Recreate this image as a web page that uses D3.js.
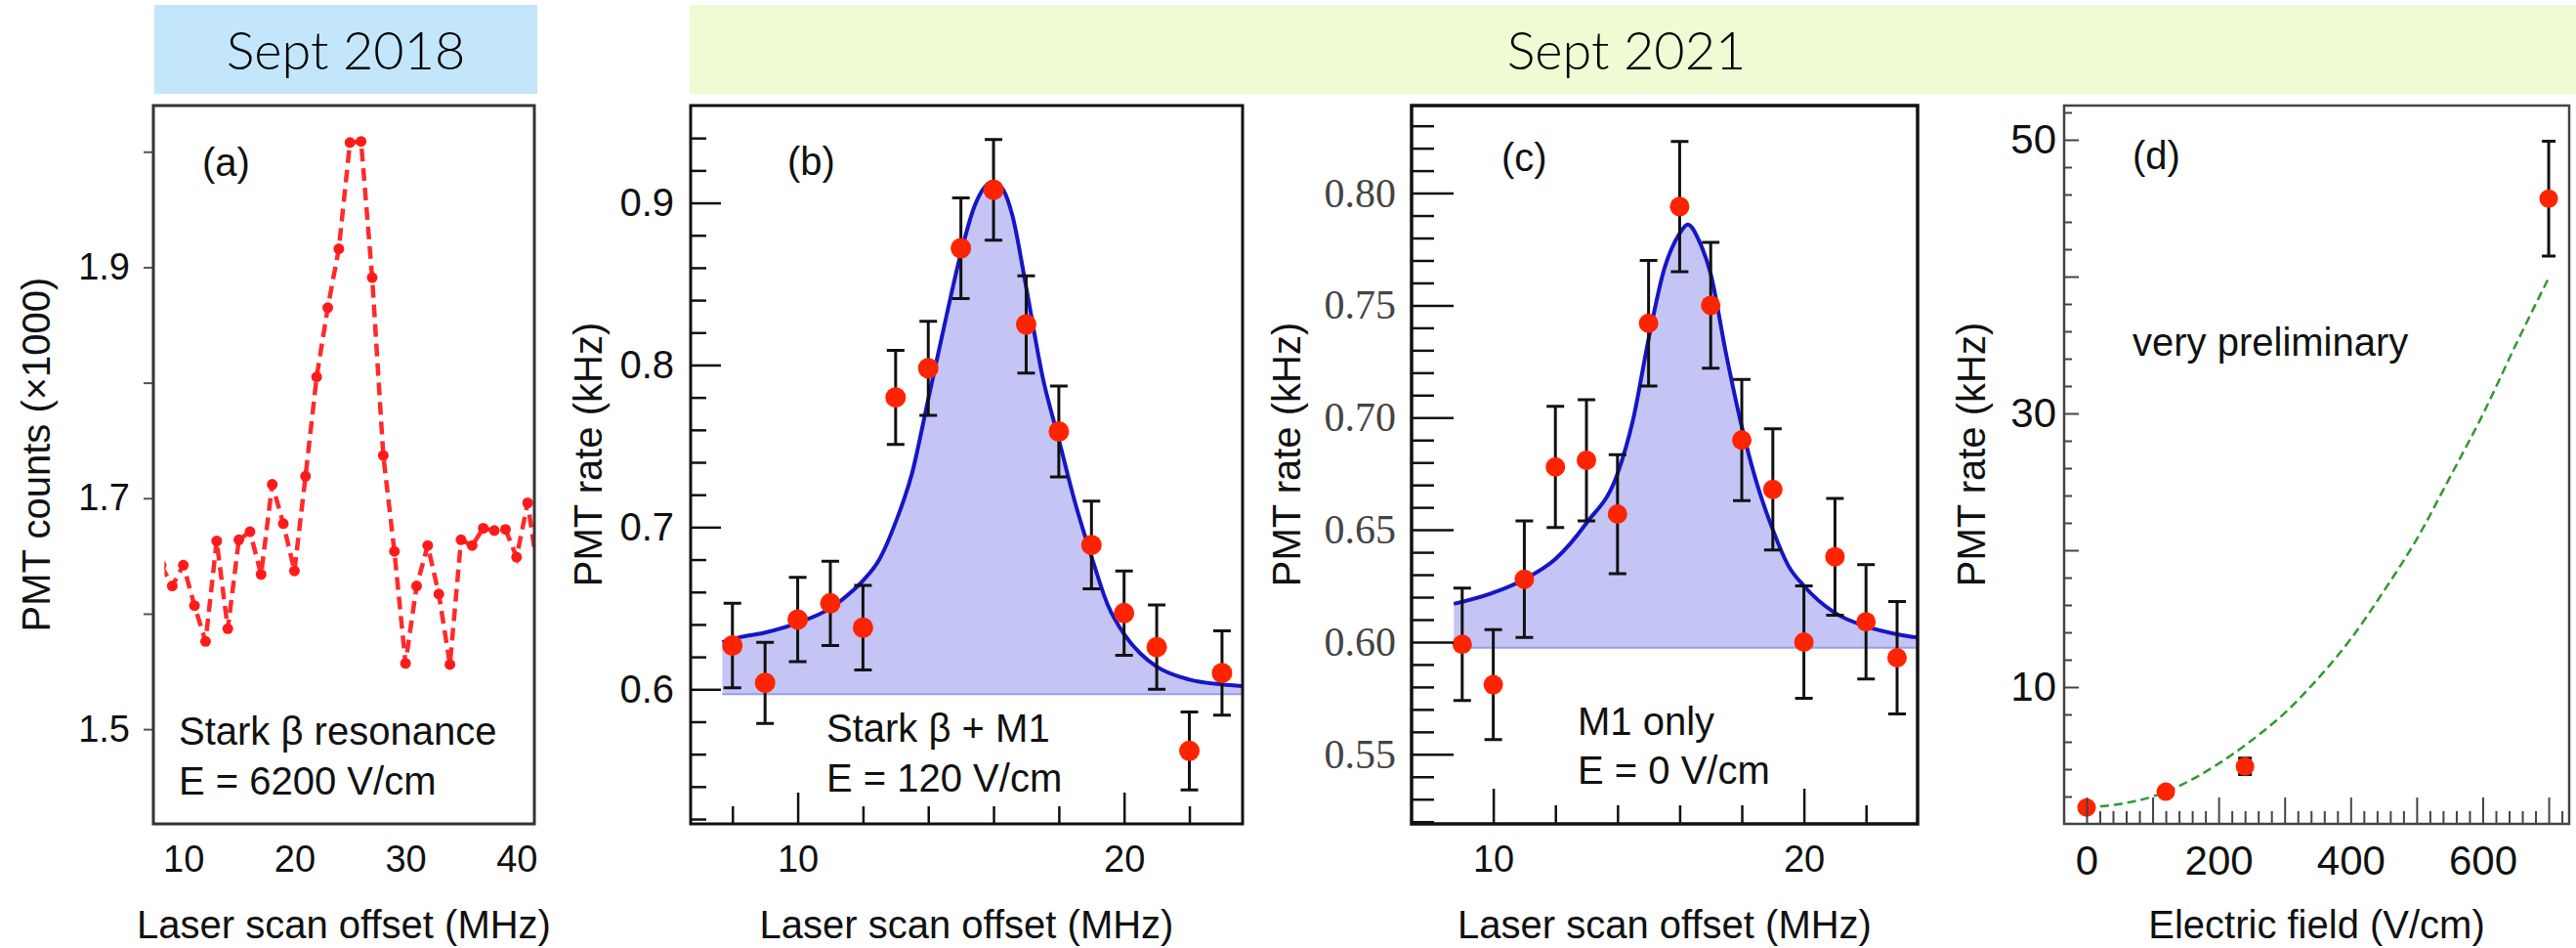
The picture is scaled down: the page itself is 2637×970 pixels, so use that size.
<!DOCTYPE html>
<html>
<head>
<meta charset="utf-8">
<script src="https://cdn.jsdelivr.net/npm/d3@7"></script>
<style>
  body { margin: 0; background: #fff; }
  svg { display: block; }
</style>
</head>
<body>
<div id="chart"></div>
<script>
// ---- values ----
const bannerText = ["Sept 2018", "Sept 2021"];

// (a) Sept 2018 scan
const scanA = [8,9,10,11,12,13,14,15,16,17,18,19,20,21,22,23,24,25,26,27,28,29,30,31,32,33,34,35,36,37,38,39,40,41,42];
const countsA = [1.642,1.624,1.642,1.607,1.576,1.663,1.587,1.664,1.671,1.634,1.712,1.678,1.637,1.719,1.805,1.865,1.916,2.008,2.009,1.891,1.737,1.654,1.557,1.624,1.659,1.617,1.556,1.664,1.659,1.674,1.672,1.673,1.649,1.696,1.63];
const yTicksA = [1.5,1.6,1.7,1.8,1.9,2.0];
const yLabelsA = [1.5,1.7,1.9];
const xLabelsA = [10,20,30,40];

// (b) Stark beta + M1, E = 120 V/cm
const scanB = [8,9,10,11,12,13,14,15,16,17,18,19,20,21,22,23];
const rateB = [0.627,0.604,0.643,0.653,0.638,0.780,0.798,0.872,0.908,0.825,0.759,0.689,0.647,0.626,0.562,0.610];
const errB  = [0.026,0.025,0.026,0.026,0.026,0.029,0.029,0.031,0.031,0.030,0.028,0.027,0.026,0.026,0.024,0.026];
const fitScanB = [7.69,8,9,10,11,11.7,12,12.5,13,13.5,14,14.5,15,15.4,15.74,16,16.3,16.58,17,17.5,18,18.5,19,19.5,20,20.5,21,22,23,23.63];
const fitRateB = [0.629,0.631,0.635,0.641,0.650,0.661,0.667,0.680,0.703,0.733,0.779,0.825,0.869,0.897,0.910,0.913,0.908,0.892,0.848,0.793,0.754,0.715,0.682,0.652,0.634,0.622,0.614,0.606,0.603,0.602];
const baseB = 0.597;
const yMajorB = [0.6,0.7,0.8,0.9];
const yMinorB = [0.52,0.54,0.56,0.58,0.62,0.64,0.66,0.68,0.72,0.74,0.76,0.78,0.82,0.84,0.86,0.88,0.92,0.94];
const xMajorB = [10,20];
const xMinorB = [8,12,14,16,18,22];

// (c) M1 only, E = 0 V/cm
const scanC = [9,10,11,12,13,14,15,16,17,18,19,20,21,22,23];
const rateC = [0.599,0.581,0.628,0.678,0.681,0.657,0.742,0.794,0.750,0.690,0.668,0.600,0.638,0.609,0.593];
const errC  = [0.025,0.0245,0.026,0.027,0.027,0.0265,0.028,0.029,0.028,0.027,0.027,0.025,0.026,0.0255,0.025];
const fitScanC = [8.73,10,11,12,13,14,14.5,15,15.5,16,16.26,16.65,17,17.5,18,18.5,19,19.5,20,21,22,23,23.66];
const fitRateC = [0.617,0.622,0.628,0.637,0.653,0.675,0.699,0.735,0.766,0.782,0.786,0.778,0.764,0.728,0.696,0.670,0.650,0.634,0.625,0.613,0.607,0.6035,0.602];
const baseC = 0.5975;
const yMajorC = [0.55,0.60,0.65,0.70,0.75,0.80];
const yMinorC = [0.52,0.53,0.54,0.56,0.57,0.58,0.59,0.61,0.62,0.63,0.64,0.66,0.67,0.68,0.69,0.71,0.72,0.73,0.74,0.76,0.77,0.78,0.79,0.81,0.82,0.83];
const xMajorC = [10,20];
const xMinorC = [12,14,16,18,22];

// (d) rate vs electric field
const fieldD = [0,120,240,700];
const rateD = [1.2,2.35,4.2,45.7];
const errD  = [0,0,0.6,4.2];
const fitFieldD = [0,50,100,150,200,250,300,350,400,450,500,550,600,650,700];
const fitRateD  = [1.2,1.45,2.0,3.0,4.4,6.1,8.1,10.6,13.5,17.0,20.8,25.3,29.9,35.0,39.9];
const yMajorD = [10,20,30,40,50];
const yLabelsD = [10,30,50];
const yMinorD = [2,4,6,8,12,14,16,18,22,24,26,28,32,34,36,38,42,44,46,48,52];
const xMajorD = [0,100,200,300,400,500,600,700];
const xLabelsD = [0,200,400,600];
const xMinorD = [20,40,60,80,120,140,160,180,220,240,260,280,320,340,360,380,420,440,460,480,520,540,560,580,620,640,660,680,720];

// ---- layout ----
const W = 2637, H = 970;
const plotTop = 108, plotBottom = 843;
const sans = "'Liberation Sans', Arial, Helvetica, sans-serif";

const svg = d3.select("#chart").append("svg")
    .attr("width", W)
    .attr("height", H)
    .style("font-family", sans);

// banners
const banners = [
  {x: 158, w: 392, fill: "#c3e6fb", cx: 354},
  {x: 706, w: 1931, fill: "#eefbd3", cx: 1665}
];
banners.forEach((b, i) => {
  svg.append("rect").attr("x", b.x).attr("y", 5).attr("width", b.w).attr("height", 91).attr("fill", b.fill);
  svg.append("text").attr("x", b.cx).attr("y", 71)
    .attr("text-anchor", "middle")
    .style("font-family", "Lato, 'Open Sans', sans-serif")
    .style("font-weight", 300)
    .style("font-size", "54px")
    .attr("fill", "#000")
    .text(bannerText[i]);
});

// scales
const xA = d3.scaleLinear().domain([7.3, 41.6]).range([157, 547]);
const yA = d3.scaleLinear().domain([1.418, 2.04]).range([plotBottom, plotTop]);
const xB = d3.scaleLinear().domain([6.72, 23.63]).range([707, 1272]);
const yB = d3.scaleLinear().domain([0.517, 0.960]).range([plotBottom, plotTop]);
const xC = d3.scaleLinear().domain([7.37, 23.66]).range([1445, 1963]);
const yC = d3.scaleLinear().domain([0.519, 0.839]).range([plotBottom, plotTop]);
const xD = d3.scaleLinear().domain([-34, 731]).range([2113, 2630]);
const yD = d3.scaleLinear().domain([0, 52.5]).range([plotBottom, plotTop]);

function clip(id, x0, x1) {
  svg.append("clipPath").attr("id", id)
    .append("rect").attr("x", x0).attr("y", plotTop).attr("width", x1 - x0).attr("height", plotBottom - plotTop);
  return "url(#" + id + ")";
}

function styleAxis(g, size, color, family) {
  g.select(".domain").remove();
  g.selectAll("line").attr("stroke", "#111").attr("stroke-width", 2.5);
  g.selectAll("text").style("font-size", size + "px").style("font-family", family || sans).attr("fill", color || "#111");
}

function axisTitles(x0, x1, yx, xt, yt) {
  svg.append("text").attr("x", (x0 + x1) / 2).attr("y", 960)
    .attr("text-anchor", "middle").style("font-size", "40px").attr("fill", "#111").text(xt);
  svg.append("text").attr("transform", `translate(${yx},465) rotate(-90)`)
    .attr("dy", "0.35em").attr("text-anchor", "middle")
    .style("font-size", "40px").attr("fill", "#111").text(yt);
}

function note(x, y, lines, dy) {
  lines.forEach((t, i) => {
    svg.append("text").attr("x", x).attr("y", y + i * dy)
      .style("font-size", "40px").attr("fill", "#111").text(t);
  });
}

function frame(x0, x1, color, width) {
  svg.append("rect").attr("x", x0).attr("y", plotTop).attr("width", x1 - x0).attr("height", plotBottom - plotTop)
    .attr("fill", "none").attr("stroke", color).attr("stroke-width", width);
}

function errorBars(g, xs, ys, es, x, y, cap) {
  const d = xs.map((v, i) => ({x: v, y: ys[i], e: es[i]})).filter(p => p.e > 0);
  g.selectAll(null).data(d).join("path")
    .attr("d", p => {
      const px = x(p.x), t = y(p.y + p.e), b = y(p.y - p.e);
      return `M${px},${t}V${b}M${px - cap},${t}H${px + cap}M${px - cap},${b}H${px + cap}`;
    })
    .attr("fill", "none").attr("stroke", "#111").attr("stroke-width", 3);
}

function dots(g, xs, ys, x, y, r) {
  g.selectAll(null).data(xs.map((v, i) => [v, ys[i]])).join("circle")
    .attr("cx", p => x(p[0])).attr("cy", p => y(p[1])).attr("r", r)
    .attr("fill", "#ff2400");
}

// ================= panel (a) =================
{
  const g = svg.append("g").attr("clip-path", clip("clipA", xA(8.3), 547));
  const pts = scanA.map((v, i) => [v, countsA[i]]);
  g.append("path").datum(pts)
    .attr("d", d3.line().x(p => xA(p[0])).y(p => yA(p[1])))
    .attr("fill", "none").attr("stroke", "#ff2a2a").attr("stroke-width", 4.5)
    .attr("stroke-dasharray", "13,7");
  g.selectAll(null).data(pts).join("circle")
    .attr("cx", p => xA(p[0])).attr("cy", p => yA(p[1])).attr("r", 5.5).attr("fill", "#ff1a1a");

  const ay = svg.append("g").attr("transform", "translate(157,0)")
    .call(d3.axisLeft(yA).tickValues(yTicksA).tickSize(10).tickPadding(14)
      .tickFormat(v => yLabelsA.includes(v) ? v.toFixed(1) : ""));
  styleAxis(ay, 38);
  ay.selectAll("line").attr("stroke", "#555").attr("stroke-width", 2);
  const ax = svg.append("g").attr("transform", `translate(0,${plotBottom})`)
    .call(d3.axisBottom(xA).tickValues(xLabelsA).tickSize(0).tickPadding(22));
  styleAxis(ax, 38);

  frame(157, 547, "#333", 3);
  axisTitles(157, 547, 37, "Laser scan offset (MHz)", "PMT counts (\u00d71000)");
  note(207, 180, ["(a)"], 0);
  note(183, 762, ["Stark \u03b2 resonance", "E = 6200 V/cm"], 51);
}

// ================= panel (b) =================
{
  const g = svg.append("g").attr("clip-path", clip("clipB", 707, 1272));
  const fit = fitScanB.map((v, i) => [v, fitRateB[i]]);
  g.append("path").datum(fit)
    .attr("d", d3.area().curve(d3.curveMonotoneX).x(p => xB(p[0])).y0(yB(baseB)).y1(p => yB(p[1])))
    .attr("fill", "#c4c4f5");
  g.append("line").attr("x1", xB(fitScanB[0])).attr("x2", 1272).attr("y1", yB(baseB)).attr("y2", yB(baseB))
    .attr("stroke", "#9a9aec").attr("stroke-width", 2);
  g.append("path").datum(fit)
    .attr("d", d3.line().curve(d3.curveMonotoneX).x(p => xB(p[0])).y(p => yB(p[1])))
    .attr("fill", "none").attr("stroke", "#1616c4").attr("stroke-width", 4);
  errorBars(g, scanB, rateB, errB, xB, yB, 9);
  dots(g, scanB, rateB, xB, yB, 10.5);

  const mi = svg.append("g").attr("transform", "translate(707,0)")
    .call(d3.axisLeft(yB).tickValues(yMinorB).tickSize(-16).tickFormat(""));
  styleAxis(mi, 38);
  const ma = svg.append("g").attr("transform", "translate(707,0)")
    .call(d3.axisLeft(yB).tickValues(yMajorB).tickSize(-31).tickPadding(17).tickFormat(d3.format(".1f")));
  styleAxis(ma, 40);
  const xm = svg.append("g").attr("transform", `translate(0,${plotBottom})`)
    .call(d3.axisBottom(xB).tickValues(xMinorB).tickSize(-18).tickFormat(""));
  styleAxis(xm, 38);
  const xM = svg.append("g").attr("transform", `translate(0,${plotBottom})`)
    .call(d3.axisBottom(xB).tickValues(xMajorB).tickSize(-32).tickPadding(22));
  styleAxis(xM, 38);

  frame(707, 1272, "#111", 3);
  axisTitles(707, 1272, 602, "Laser scan offset (MHz)", "PMT rate (kHz)");
  note(806, 179, ["(b)"], 0);
  note(846, 759, ["Stark \u03b2 + M1", "E = 120 V/cm"], 51);
}

// ================= panel (c) =================
{
  const g = svg.append("g").attr("clip-path", clip("clipC", 1445, 1963));
  const fit = fitScanC.map((v, i) => [v, fitRateC[i]]);
  g.append("path").datum(fit)
    .attr("d", d3.area().curve(d3.curveMonotoneX).x(p => xC(p[0])).y0(yC(baseC)).y1(p => yC(p[1])))
    .attr("fill", "#c4c4f5");
  g.append("line").attr("x1", xC(fitScanC[0])).attr("x2", 1963).attr("y1", yC(baseC)).attr("y2", yC(baseC))
    .attr("stroke", "#9a9aec").attr("stroke-width", 2);
  g.append("path").datum(fit)
    .attr("d", d3.line().curve(d3.curveMonotoneX).x(p => xC(p[0])).y(p => yC(p[1])))
    .attr("fill", "none").attr("stroke", "#1616c4").attr("stroke-width", 4);
  errorBars(g, scanC, rateC, errC, xC, yC, 9);
  dots(g, scanC, rateC, xC, yC, 10);

  const serif = "'Liberation Serif', 'DejaVu Serif', serif";
  const mi = svg.append("g").attr("transform", "translate(1445,0)")
    .call(d3.axisLeft(yC).tickValues(yMinorC).tickSize(-23).tickFormat(""));
  styleAxis(mi, 38);
  const ma = svg.append("g").attr("transform", "translate(1445,0)")
    .call(d3.axisLeft(yC).tickValues(yMajorC).tickSize(-43).tickPadding(16).tickFormat(d3.format(".2f")));
  styleAxis(ma, 42, "#444", serif);
  const xm = svg.append("g").attr("transform", `translate(0,${plotBottom})`)
    .call(d3.axisBottom(xC).tickValues(xMinorC).tickSize(-19).tickFormat(""));
  styleAxis(xm, 38);
  const xM = svg.append("g").attr("transform", `translate(0,${plotBottom})`)
    .call(d3.axisBottom(xC).tickValues(xMajorC).tickSize(-36).tickPadding(22));
  styleAxis(xM, 38);

  frame(1445, 1963, "#111", 3.5);
  axisTitles(1445, 1963, 1317, "Laser scan offset (MHz)", "PMT rate (kHz)");
  note(1537, 175, ["(c)"], 0);
  note(1615, 752, ["M1 only", "E = 0 V/cm"], 50);
}

// ================= panel (d) =================
{
  const g = svg.append("g").attr("clip-path", clip("clipD", 2113, 2630));
  const fit = fitFieldD.map((v, i) => [v, fitRateD[i]]);
  g.append("path").datum(fit)
    .attr("d", d3.line().curve(d3.curveMonotoneX).x(p => xD(p[0])).y(p => yD(p[1])))
    .attr("fill", "none").attr("stroke", "#2f9a2f").attr("stroke-width", 2.5)
    .attr("stroke-dasharray", "9,5");
  errorBars(g, fieldD, rateD, errD, xD, yD, 7);
  dots(g, fieldD, rateD, xD, yD, 9.5);

  const mi = svg.append("g").attr("transform", "translate(2113,0)")
    .call(d3.axisLeft(yD).tickValues(yMinorD).tickSize(-8).tickFormat(""));
  styleAxis(mi, 38);
  const ma = svg.append("g").attr("transform", "translate(2113,0)")
    .call(d3.axisLeft(yD).tickValues(yMajorD).tickSize(-15).tickPadding(8)
      .tickFormat(v => yLabelsD.includes(v) ? v : ""));
  styleAxis(ma, 42);
  const xm = svg.append("g").attr("transform", `translate(0,${plotBottom})`)
    .call(d3.axisBottom(xD).tickValues(xMinorD).tickSize(-13).tickFormat(""));
  styleAxis(xm, 38);
  const xM = svg.append("g").attr("transform", `translate(0,${plotBottom})`)
    .call(d3.axisBottom(xD).tickValues(xMajorD).tickSize(-27).tickPadding(22)
      .tickFormat(v => xLabelsD.includes(v) ? v : ""));
  styleAxis(xM, 42);
  [mi, ma, xm, xM].forEach(a => a.selectAll("line").attr("stroke", "#444").attr("stroke-width", 2));

  frame(2113, 2630, "#444", 2.5);
  axisTitles(2113, 2630, 2018, "Electric field (V/cm)", "PMT rate (kHz)");
  note(2183, 173, ["(d)"], 0);
  note(2183, 364, ["very preliminary"], 0);
}
</script>
</body>
</html>
